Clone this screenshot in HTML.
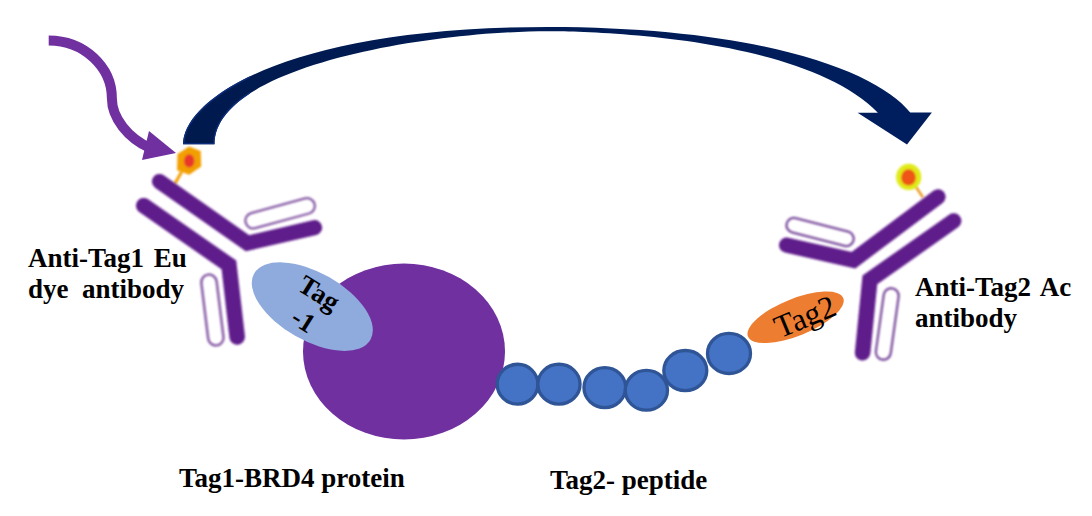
<!DOCTYPE html>
<html><head><meta charset="utf-8"><title>TR-FRET assay</title>
<style>
html,body{margin:0;padding:0;background:#fff;}
body{width:1092px;height:516px;overflow:hidden;position:relative;}
svg{position:absolute;left:0;top:0;}
.lbl{font-family:"Liberation Serif",serif;font-weight:bold;font-size:27px;fill:#000;}
</style></head>
<body>
<svg width="1092" height="516" viewBox="0 0 1092 516">
<defs>
<filter id="soft" x="-20%" y="-20%" width="140%" height="140%"><feGaussianBlur stdDeviation="0.85"/></filter>
<filter id="soft2" x="-30%" y="-30%" width="160%" height="160%"><feGaussianBlur stdDeviation="1.1"/></filter>
</defs>

<!-- purple incoming arrow -->
<path d="M48.7,40.5 A63.2,58 0 0 1 111.9,98.5 C111.9,118 128,138 150,148" fill="none" stroke="#7030A0" stroke-width="10"/>
<path d="M142,160 L149,131 L176,153 Z" fill="#7030A0"/>

<!-- navy arc arrow -->
<linearGradient id="navyg" x1="180" y1="0" x2="935" y2="0" gradientUnits="userSpaceOnUse"><stop offset="0" stop-color="#001A4E"/><stop offset="1" stop-color="#001E5E"/></linearGradient>
<clipPath id="navyclip"><path d="M183.1,144.3 C183.1,100.1 283.85,26.9 548,26.9 C759.3,26.9 877.4,70.9 910.2,112.6 L931.9,112.6 L907,144.4 L857.6,112.7 L877.9,112.7 C801.7,34.4 581.9,31.3 548,31.3 C430.8,31.3 214.5,65.45 214.5,144.3 Z"/></clipPath>
<clipPath id="leftclip"><rect x="170" y="60" width="80" height="90"/></clipPath>
<path d="M183.1,144.3 C183.1,100.1 283.85,26.9 548,26.9 C759.3,26.9 877.4,70.9 910.2,112.6 L931.9,112.6 L907,144.4 L857.6,112.7 L877.9,112.7 C801.7,34.4 581.9,31.3 548,31.3 C430.8,31.3 214.5,65.45 214.5,144.3 Z" fill="url(#navyg)"/>
<g clip-path="url(#leftclip)"><path d="M183.1,144.3 C183.1,100.1 283.85,26.9 548,26.9 C759.3,26.9 877.4,70.9 910.2,112.6 L931.9,112.6 L907,144.4 L857.6,112.7 L877.9,112.7 C801.7,34.4 581.9,31.3 548,31.3 C430.8,31.3 214.5,65.45 214.5,144.3 Z" fill="none" stroke="#0C2E7C" stroke-width="2.8" stroke-linejoin="miter" clip-path="url(#navyclip)"/></g>

<!-- left antibody -->
<g filter="url(#soft2)">
<line x1="175" y1="183.5" x2="181.5" y2="172" stroke="#F29F05" stroke-width="3"/>
<polygon points="189,146.5 200.7,151 201.2,166.5 189.2,174.8 177,170.3 177.5,154" fill="#F29F05"/>
<ellipse cx="189.2" cy="160.9" rx="5.2" ry="6.6" fill="#E8392A"/>
</g>
<g filter="url(#soft)">
<polyline points="159.4,181.5 247.4,243.2 314.6,227.6" fill="none" stroke="#5E1A8B" stroke-width="15" stroke-linecap="round" stroke-linejoin="miter"/>
<polyline points="143.7,205.7 228.9,264.9 237.2,337" fill="none" stroke="#5E1A8B" stroke-width="15.5" stroke-linecap="round" stroke-linejoin="miter"/>
<rect x="-35.7" y="-7.8" width="71.4" height="15.6" rx="7.8" transform="translate(280.1,213.3) rotate(-15.2)" fill="none" stroke="#875AA6" stroke-width="2.3"/>
<rect x="-7.7" y="-35.65" width="15.4" height="71.3" rx="7.7" transform="translate(212.4,310) rotate(-7)" fill="none" stroke="#875AA6" stroke-width="2.5"/>
</g>

<!-- big purple protein -->
<ellipse cx="404" cy="351.5" rx="101" ry="88" fill="#7030A0"/>
<!-- Tag-1 ellipse -->
<ellipse cx="312.3" cy="306.6" rx="66.9" ry="33.9" transform="rotate(29.6 312.3 306.6)" fill="#8FAADC"/>
<g transform="translate(296.3,289.6) rotate(32)" font-family="Liberation Serif" font-weight="bold" font-size="27">
<text x="0" y="0">Tag</text>
<text x="11.2" y="31.3">-1</text>
</g>

<!-- peptide chain -->
<g fill="#4472C4" stroke="#2F5597" stroke-width="3.3">
<ellipse cx="517.55" cy="384.15" rx="20.3" ry="19.9"/>
<ellipse cx="558.95" cy="384.15" rx="21.1" ry="19.9"/>
<ellipse cx="604.8" cy="387.6" rx="20.85" ry="19.95"/>
<ellipse cx="646.4" cy="390.3" rx="21.1" ry="19.9"/>
<ellipse cx="685.3" cy="370.6" rx="21.5" ry="20.1"/>
<ellipse cx="729" cy="353.4" rx="21.5" ry="20.1"/>
</g>

<!-- Tag2 orange -->
<ellipse cx="795.6" cy="317.3" rx="51.4" ry="18.5" transform="rotate(-22 795.6 317.3)" fill="#ED7D31"/>
<text x="0" y="7" text-anchor="middle" transform="translate(806.3,320) rotate(-22.5)" font-family="Liberation Serif" font-size="32" fill="#000">Tag2</text>

<!-- right antibody -->
<g filter="url(#soft2)">
<line x1="916" y1="187" x2="923" y2="197.5" stroke="#EC9418" stroke-width="2.3"/>
<ellipse cx="908.7" cy="176.9" rx="12.6" ry="13.1" fill="#E0EA14"/>
<ellipse cx="908.5" cy="177.4" rx="7.4" ry="8.1" fill="#EE5519"/>
</g>
<g filter="url(#soft)">
<polyline points="786.6,245.2 853.5,260.2 938,196.8" fill="none" stroke="#5E1A8B" stroke-width="15.2" stroke-linecap="round" stroke-linejoin="miter"/>
<polyline points="953.6,221 869.9,279.8 862.6,352.8" fill="none" stroke="#5E1A8B" stroke-width="15.5" stroke-linecap="round" stroke-linejoin="miter"/>
<rect x="-34.5" y="-7.3" width="69" height="14.6" rx="7.3" transform="translate(820.1,232) rotate(14.4)" fill="none" stroke="#7C4E9E" stroke-width="2.3"/>
<rect x="-7.5" y="-36" width="15" height="72" rx="7.5" transform="translate(887.25,324) rotate(7.9)" fill="none" stroke="#7C4E9E" stroke-width="2.3"/>
</g>

<!-- labels -->
<text x="28" y="266.5" class="lbl" word-spacing="3">Anti-Tag1 Eu</text>
<text x="28" y="297.7" class="lbl">dye&#160; antibody</text>
<text x="915" y="295.5" class="lbl" word-spacing="3.5">Anti-Tag2 Ac</text>
<text x="915" y="327.1" class="lbl">antibody</text>
<text x="179" y="486.6" class="lbl">Tag1-BRD4 protein</text>
<text x="550" y="489.3" class="lbl">Tag2- peptide</text>
</svg>
</body></html>
